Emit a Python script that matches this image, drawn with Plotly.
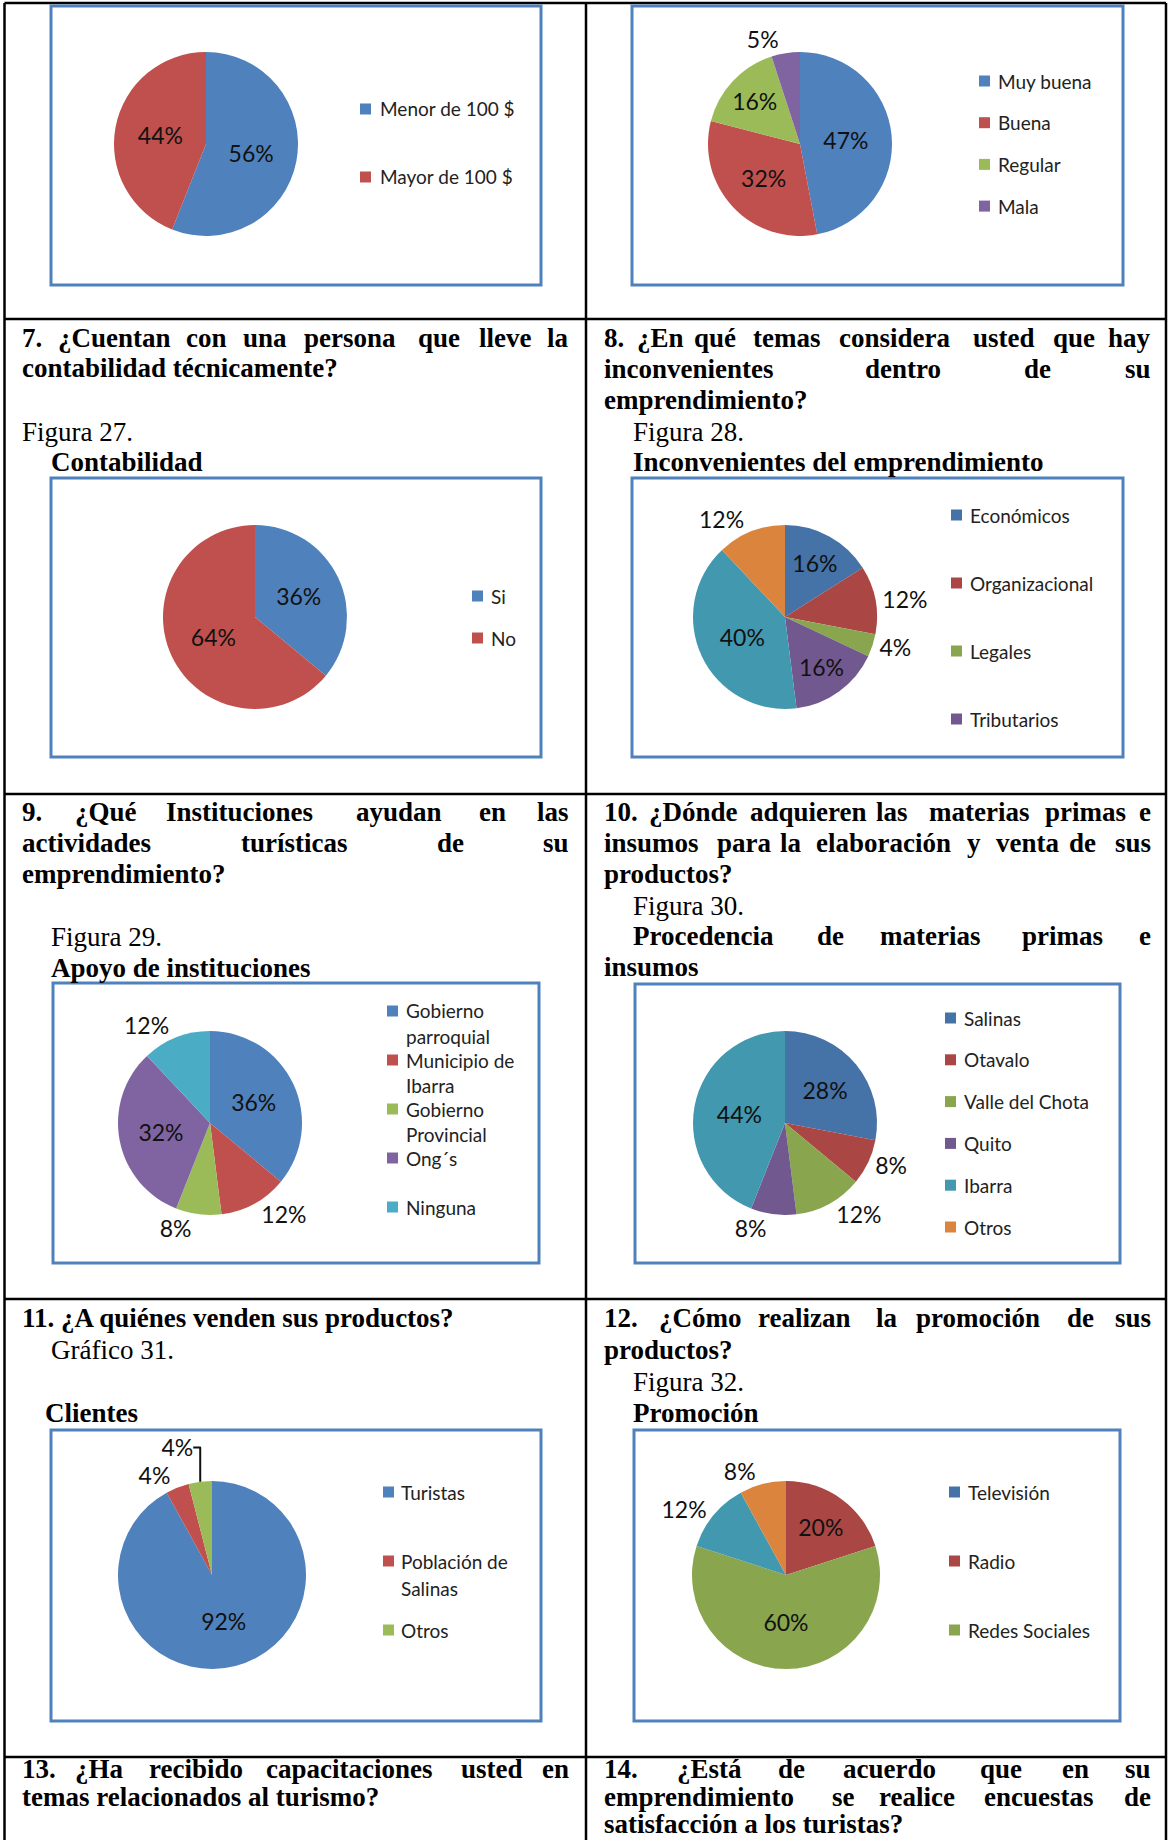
import plotly.graph_objects as go

W, H = 1168, 1840

# ---------------- data ----------------
c1_labels = ['Menor de 100 $', 'Mayor de 100 $']
c1_values = [56, 44]

c2_labels = ['Muy buena', 'Buena', 'Regular', 'Mala']
c2_values = [47, 32, 16, 5]

c3_labels = ['Si', 'No']
c3_values = [36, 64]

c4_labels = ['Económicos', 'Organizacional', 'Legales', 'Tributarios', 'Categoría 5', 'Categoría 6']
c4_values = [16, 12, 4, 16, 40, 12]
c4_legend = ['Económicos', 'Organizacional', 'Legales', 'Tributarios']

c5_labels = ['Gobierno parroquial', 'Municipio de Ibarra', 'Gobierno Provincial', 'Ong´s', 'Ninguna']
c5_values = [36, 12, 8, 32, 12]
c5_legend = [['Gobierno', 'parroquial'], ['Municipio de', 'Ibarra'], ['Gobierno', 'Provincial'], ['Ong´s'], ['Ninguna']]

c6_labels = ['Salinas', 'Otavalo', 'Valle del Chota', 'Quito', 'Ibarra', 'Otros']
c6_values = [28, 8, 12, 8, 44, 0]

c7_labels = ['Turistas', 'Población de Salinas', 'Otros']
c7_values = [92, 4, 4]
c7_legend = [['Turistas'], ['Población de', 'Salinas'], ['Otros']]

c8_labels = ['Televisión', 'Radio', 'Redes Sociales', 'Categoría 4', 'Categoría 5']
c8_values = [0, 20, 60, 12, 8]
c8_legend = ['Televisión', 'Radio', 'Redes Sociales']

STD = ['#4F81BD', '#C0504D', '#9BBB59', '#8064A2', '#4BACC6', '#F79646']
DARK = ['#4572A7', '#AA4643', '#89A54E', '#71588F', '#4198AF', '#DB843D']
DARK_C8 = ['#4572A7', '#AA4643', '#89A54E', '#4198AF', '#DB843D']

# ---------------- layout helpers ----------------
def fx(x):
    return x / W


def fy(y):
    return 1 - y / H


SANS = 'Lato'
SERIF = 'Liberation Serif'
LBL_SIZE = 23
LEG_SIZE = 19
TXT_SIZE = 27

fig = go.Figure()
shapes = []
annotations = []


def add_pie(labels, values, colors, cx, cy, r, positions):
    fig.add_trace(go.Pie(
        labels=labels, values=values, sort=False, direction='clockwise', rotation=0,
        marker=dict(colors=colors[:len(labels)], line=dict(width=0)),
        textinfo='percent', texttemplate='%{percent:.0%}',
        textposition=positions, insidetextorientation='horizontal',
        textfont=dict(family=SANS, size=LBL_SIZE, color='#111111'),
        showlegend=False, hoverinfo='label+percent',
        domain=dict(x=[fx(cx - r), fx(cx + r)], y=[fy(cy + r), fy(cy - r)]),
    ))


def add_legend(entries, colors, mx, tx, y0, step, gap=25):
    for i, ent in enumerate(entries):
        lines = ent if isinstance(ent, list) else [ent]
        y = y0 + i * step
        shapes.append(dict(type='rect', xref='paper', yref='paper',
                           x0=fx(mx), x1=fx(mx + 11), y0=fy(y + 5.5), y1=fy(y - 5.5),
                           fillcolor=colors[i], line=dict(width=0)))
        for j, ln in enumerate(lines):
            annotations.append(dict(text=ln, x=fx(tx), y=fy(y + j * gap), xref='paper', yref='paper',
                                    xanchor='left', yanchor='middle', showarrow=False,
                                    font=dict(family=SANS, size=LEG_SIZE, color='#222222')))


def add_box(x0, y0, x1, y1):
    shapes.append(dict(type='rect', xref='paper', yref='paper', x0=fx(x0), x1=fx(x1),
                       y0=fy(y1), y1=fy(y0), line=dict(color='#4F81BD', width=3),
                       fillcolor='rgba(0,0,0,0)'))


def add_text(text, x, y, bold=True, anchor='left'):
    t = '<b>%s</b>' % text if bold else text
    annotations.append(dict(text=t, x=fx(x), y=fy(y), xref='paper', yref='paper',
                            xanchor=anchor, yanchor='middle', showarrow=False,
                            font=dict(family=SERIF, size=TXT_SIZE, color='#000000')))


def add_justified(words, y, right):
    for k, (w, x) in enumerate(words):
        if k == len(words) - 1:
            add_text(w, right, y, True, 'right')
        else:
            add_text(w, x, y, True, 'left')


# ---------------- table lines ----------------
TOP, LEFT, RIGHT = 3, 4.5, 1166
for (x0, y0, x1, y1) in [(LEFT, TOP, RIGHT, TOP), (LEFT, 319, RIGHT, 319), (LEFT, 794, RIGHT, 794),
                         (LEFT, 1299, RIGHT, 1299), (LEFT, 1757, RIGHT, 1757),
                         (LEFT, TOP, LEFT, 1840), (586, TOP, 586, 1840), (RIGHT, TOP, RIGHT, 1840)]:
    shapes.append(dict(type='line', xref='paper', yref='paper', x0=fx(x0), x1=fx(x1),
                       y0=fy(y0), y1=fy(y1), line=dict(color='#000000', width=2.5)))

# ---------------- chart frames ----------------
add_box(51, 6, 541, 285)
add_box(632, 6, 1123, 285)
add_box(51, 478, 541, 757)
add_box(632, 478, 1123, 757)
add_box(53, 983, 539, 1263)
add_box(635, 984, 1120, 1263)
add_box(51, 1430, 541, 1721)
add_box(634, 1430, 1120, 1721)

# ---------------- pies ----------------
add_pie(c1_labels, c1_values, STD, 206, 144, 92, ['inside', 'inside'])
add_legend(c1_labels, STD, 360, 378, 109, 68)

add_pie(c2_labels, c2_values, STD, 800, 144, 92, ['inside', 'inside', 'inside', 'outside'])
add_legend(c2_labels, STD, 979, 996, 81, 41.7)

add_pie(c3_labels, c3_values, STD, 255, 617, 92, ['inside', 'inside'])
add_legend(c3_labels, STD, 472, 489, 596, 42)

add_pie(c4_labels, c4_values, DARK, 785, 617, 92,
        ['inside', 'outside', 'outside', 'inside', 'inside', 'outside'])
add_legend(c4_legend, DARK, 951, 968, 515, 68)

add_pie(c5_labels, c5_values, STD, 210, 1123, 92,
        ['inside', 'outside', 'outside', 'inside', 'outside'])
add_legend(c5_legend, STD, 387, 404, 1011, 49, 25)

add_pie(c6_labels, c6_values, DARK, 785, 1123, 92,
        ['inside', 'outside', 'outside', 'outside', 'inside', 'none'])
add_legend(c6_labels, DARK, 945, 962, 1018, 41.8)

add_pie(c7_labels, c7_values, STD, 212, 1575, 94, ['inside', 'outside', 'outside'])
add_legend(c7_legend, STD, 383, 399, 1492, 69, 27)

add_pie(c8_labels, c8_values, DARK_C8, 786, 1575, 94,
        ['none', 'inside', 'inside', 'outside', 'outside'])
add_legend(c8_legend, DARK_C8, 949, 966, 1492, 69)

# ---------------- texts ----------------
L_R, R_R = 571, 1153

add_justified([('7.', 20), ('¿Cuentan', 56), ('con', 184), ('una', 241), ('persona', 302),
               ('que', 416), ('lleve', 477), ('la', 0)], 338, L_R)
add_text('contabilidad técnicamente?', 20, 368)
add_text('Figura 27.', 20, 432, bold=False)
add_text('Contabilidad', 49, 462)

add_justified([('8.', 602), ('¿En', 635), ('qué', 692), ('temas', 751), ('considera', 837),
               ('usted', 971), ('que', 1051), ('hay', 0)], 338, R_R)
add_justified([('inconvenientes', 602), ('dentro', 863), ('de', 1022), ('su', 0)], 369, R_R)
add_text('emprendimiento?', 602, 400)
add_text('Figura 28.', 631, 432, bold=False)
add_text('Inconvenientes del emprendimiento', 631, 462)

add_justified([('9.', 20), ('¿Qué', 73), ('Instituciones', 164), ('ayudan', 354), ('en', 477),
               ('las', 0)], 812, L_R)
add_justified([('actividades', 20), ('turísticas', 239), ('de', 435), ('su', 0)], 843, L_R)
add_text('emprendimiento?', 20, 874)
add_text('Figura 29.', 49, 937, bold=False)
add_text('Apoyo de instituciones', 49, 968)

add_justified([('10.', 602), ('¿Dónde', 647), ('adquieren', 748), ('las', 874), ('materias', 927),
               ('primas', 1043), ('e', 0)], 812, R_R)
add_justified([('insumos', 602), ('para', 715), ('la', 778), ('elaboración', 814), ('y', 965),
               ('venta', 994), ('de', 1067), ('sus', 0)], 843, R_R)
add_text('productos?', 602, 874)
add_text('Figura 30.', 631, 906, bold=False)
add_justified([('Procedencia', 631), ('de', 815), ('materias', 878), ('primas', 1020), ('e', 0)], 936, R_R)
add_text('insumos', 602, 967)

add_text('11. ¿A quiénes venden sus productos?', 20, 1318)
add_text('Gráfico 31.', 49, 1350, bold=False)
add_text('Clientes', 43, 1413)

add_justified([('12.', 602), ('¿Cómo', 657), ('realizan', 756), ('la', 874), ('promoción', 914),
               ('de', 1065), ('sus', 0)], 1318, R_R)
add_text('productos?', 602, 1350)
add_text('Figura 32.', 631, 1382, bold=False)
add_text('Promoción', 631, 1413)

add_justified([('13.', 20), ('¿Ha', 73), ('recibido', 147), ('capacitaciones', 264), ('usted', 459),
               ('en', 0)], 1769, L_R)
add_text('temas relacionados al turismo?', 20, 1797)

add_justified([('14.', 602), ('¿Está', 675), ('de', 776), ('acuerdo', 841), ('que', 978),
               ('en', 1060), ('su', 0)], 1769, R_R)
add_justified([('emprendimiento', 602), ('se', 830), ('realice', 877), ('encuestas', 982), ('de', 0)], 1797, R_R)
add_text('satisfacción a los turistas?', 602, 1824)

fig.update_layout(
    width=W, height=H, margin=dict(l=0, r=0, t=0, b=0),
    paper_bgcolor='white', plot_bgcolor='white',
    shapes=shapes, annotations=annotations, showlegend=False,
)

# remove the default 8px page margin so the 1168x1840 figure fills the window exactly
fig.write_html('out.html', config={'displayModeBar': False}, post_script=(
    "document.body.style.margin='0px';"
    "document.documentElement.style.overflow='hidden';"
    "document.body.style.overflow='hidden';"))
